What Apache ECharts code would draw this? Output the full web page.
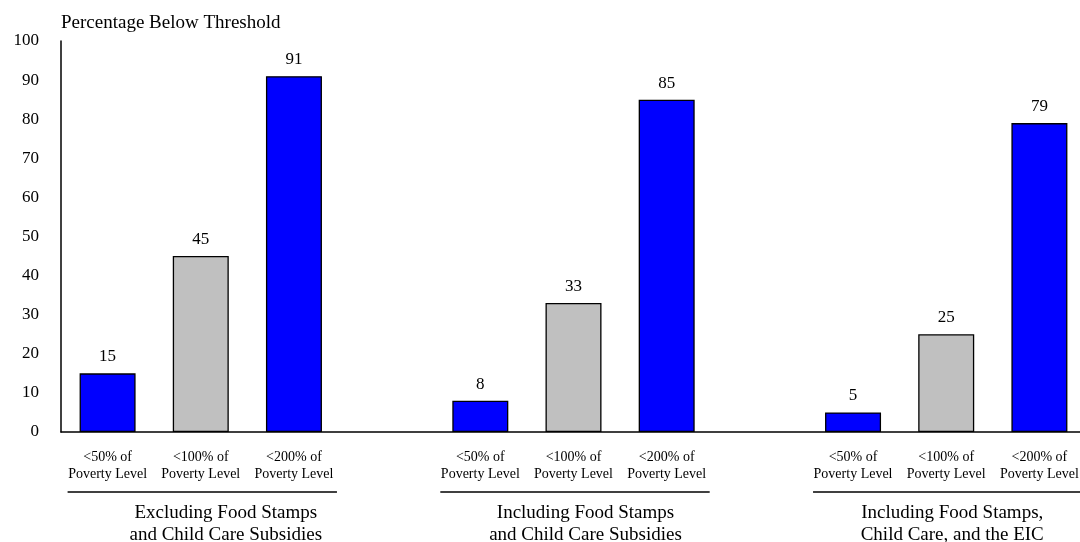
<!DOCTYPE html>
<html>
<head>
<meta charset="utf-8">
<script src="https://cdn.jsdelivr.net/npm/echarts@6/dist/echarts.min.js"></script>
<style>html,body{margin:0;padding:0;background:#fff;overflow:hidden}#c{width:1086px;height:542px}</style>
</head>
<body>
<div id="c"></div>
<script>
var thresholds = ['<50% of\nPoverty Level', '<100% of\nPoverty Level', '<200% of\nPoverty Level'];
var groups = ['Excluding Food Stamps\nand Child Care Subsidies', 'Including Food Stamps\nand Child Care Subsidies', 'Including Food Stamps,\nChild Care, and the EIC'];
var excludingValues = [15, 45, 91];
var includingValues = [8, 33, 85];
var includingEicValues = [5, 25, 79];
var yTicks = [0, 10, 20, 30, 40, 50, 60, 70, 80, 90, 100];
var yAxisTitle = 'Percentage Below Threshold';

var groupValues = [excludingValues, includingValues, includingEicValues];
var barColors = ['#0000ff', '#c0c0c0', '#0000ff'];
var groupLabelShift = [25, 12, 6];
var FONT = '"Liberation Serif", "Times New Roman", serif';

var cats = [], data = [], groupIdx = [];
groupValues.forEach(function (vals, g) {
  if (g > 0) { cats.push('gap' + g); data.push('-'); }
  var idx = [];
  vals.forEach(function (v, i) {
    idx.push(cats.length);
    cats.push(thresholds[i]);
    data.push({ value: v, itemStyle: { color: barColors[i] } });
  });
  groupIdx.push(idx);
});

var chart = echarts.init(document.getElementById('c'), null, { renderer: 'canvas' });
chart.setOption({
  animation: false,
  grid: { left: 61, top: 41, right: 0, bottom: 110, containLabel: false },
  xAxis: {
    type: 'category',
    data: cats,
    axisLine: { lineStyle: { color: '#000', width: 1.5 } },
    axisTick: { show: false },
    axisLabel: {
      interval: 0, margin: 17, color: '#000', fontFamily: FONT, fontSize: 14, lineHeight: 17,
      formatter: function (v) { return v.indexOf('gap') === 0 ? '' : v; }
    }
  },
  yAxis: {
    type: 'value', min: 0, max: 100, interval: 10,
    name: yAxisTitle,
    nameLocation: 'end',
    nameGap: 8,
    nameTextStyle: { color: '#000', fontFamily: FONT, fontSize: 19, align: 'left' },
    axisLine: { show: true, lineStyle: { color: '#000', width: 1.5 } },
    axisTick: { show: false },
    splitLine: { show: false },
    axisLabel: {
      color: '#000', fontFamily: FONT, fontSize: 17, margin: 22,
      formatter: function (v) { return yTicks.indexOf(v) >= 0 ? String(v) : ''; }
    }
  },
  series: [{
    type: 'bar',
    data: data,
    barWidth: 56,
    itemStyle: { borderColor: '#000', borderWidth: 1.3 },
    label: { show: true, position: 'top', distance: 8, color: '#000', fontFamily: FONT, fontSize: 17 }
  }]
});

var graphics = [];
var y0 = chart.convertToPixel({ yAxisIndex: 0 }, 0);
groupIdx.forEach(function (idx, g) {
  var xa = chart.convertToPixel({ xAxisIndex: 0 }, idx[0]);
  var xb = chart.convertToPixel({ xAxisIndex: 0 }, idx[2]);
  var xm = chart.convertToPixel({ xAxisIndex: 0 }, idx[1]);
  graphics.push({
    type: 'line',
    shape: { x1: xa - 40, y1: y0 + 60, x2: xb + 43, y2: y0 + 60 },
    style: { stroke: '#000', lineWidth: 1.5 }
  });
  graphics.push({
    type: 'text',
    x: xm + groupLabelShift[g], y: y0 + 70,
    style: { text: groups[g], fill: '#000', font: '19px ' + FONT, textAlign: 'center', textVerticalAlign: 'top', lineHeight: 22 }
  });
});
chart.setOption({ graphic: graphics });
</script>
</body>
</html>
